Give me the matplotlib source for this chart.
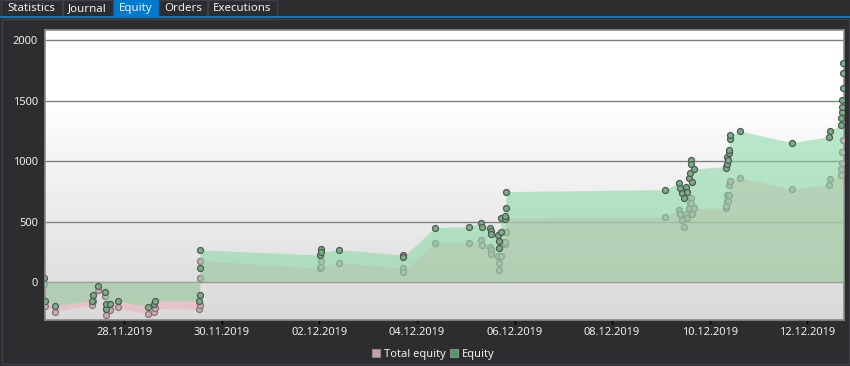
import matplotlib
matplotlib.use("Agg")
import matplotlib.pyplot as plt
import matplotlib.dates as mdates
from matplotlib.patches import Rectangle, Patch
import numpy as np
import pandas as pd

plt.rcParams['font.family'] = ['Noto Sans', 'DejaVu Sans']

# ---------------- data ----------------
times = [
    "2019-11-26 08:45", "2019-11-26 09:05", "2019-11-26 13:45",
    "2019-11-27 08:20", "2019-11-27 08:35", "2019-11-27 10:55", "2019-11-27 14:20",
    "2019-11-27 14:50", "2019-11-27 15:10", "2019-11-27 17:00", "2019-11-27 20:45",
    "2019-11-28 11:30", "2019-11-28 14:50", "2019-11-28 15:10",
    "2019-11-29 12:55", "2019-11-29 13:05", "2019-11-29 13:15", "2019-11-29 13:30",
    "2019-12-02 00:05", "2019-12-02 00:40", "2019-12-02 01:00", "2019-12-02 09:35",
    "2019-12-03 17:00", "2019-12-03 17:20", "2019-12-04 08:50", "2019-12-05 01:35",
    "2019-12-05 07:40", "2019-12-05 08:10", "2019-12-05 12:00", "2019-12-05 12:15",
    "2019-12-05 12:30", "2019-12-05 15:40", "2019-12-05 16:20", "2019-12-05 16:35",
    "2019-12-05 17:15", "2019-12-05 17:30", "2019-12-05 19:10", "2019-12-05 19:20",
    "2019-12-05 19:40", "2019-12-05 19:50",
    "2019-12-09 02:00", "2019-12-09 09:00", "2019-12-09 09:20", "2019-12-09 10:30",
    "2019-12-09 11:15", "2019-12-09 12:30", "2019-12-09 12:50", "2019-12-09 14:00",
    "2019-12-09 14:20", "2019-12-09 14:40", "2019-12-09 15:00", "2019-12-09 15:30",
    "2019-12-09 16:15",
    "2019-12-10 07:50", "2019-12-10 08:00", "2019-12-10 08:20", "2019-12-10 08:40",
    "2019-12-10 09:00", "2019-12-10 09:20", "2019-12-10 09:40", "2019-12-10 10:00",
    "2019-12-10 10:10", "2019-12-10 14:50", "2019-12-11 16:20",
    "2019-12-12 10:45", "2019-12-12 11:00",
    "2019-12-12 16:40", "2019-12-12 16:50", "2019-12-12 17:00", "2019-12-12 17:10",
    "2019-12-12 17:20", "2019-12-12 17:30", "2019-12-12 17:40", "2019-12-12 17:50",
]
equity = [
    30, -155, -195,
    -155, -107, -30, -80,
    -226, -182, -182, -155,
    -204, -185, -155,
    -155, -107, 118, 265,
    223, 273, 245, 267,
    223, 209, 450, 458,
    491, 458, 444, 422,
    395, 389, 342, 284,
    411, 532, 519, 546,
    615, 748,
    764, 822, 775, 734,
    693, 789, 748, 858,
    900, 1010, 977, 830,
    935,
    955, 941, 974, 1037,
    1010, 1065, 1093, 1181,
    1217, 1250, 1153,
    1203, 1252,
    1300, 1357, 1405, 1446,
    1507, 1608, 1733, 1815,
]
total_equity = [
    -20, -200, -245,
    -193, -155, -63, -113,
    -273, -226, -235, -210,
    -268, -246, -218,
    -226, -190, 36, 176,
    113, 176, 125, 160,
    113, 85, 325, 325,
    348, 306, 292, 265,
    232, 218, 160, 99,
    218, 334, 315, 334,
    416, 530,
    540, 596, 560, 513,
    453, 560, 527, 610,
    656, 693, 656, 560,
    610,
    610, 629, 673, 720,
    673, 720, 803, 836,
    836, 863, 767,
    805, 850,
    886, 933, 988, 1079,
    1079, 1175, 1175, 1175,
]
tab_labels = ["Statistics", "Journal", "Equity", "Orders", "Executions"]
selected_tab = "Equity"
y_ticks = [0, 500, 1000, 1500, 2000]
x_tick_dates = ["2019-11-28", "2019-11-30", "2019-12-02", "2019-12-04",
                "2019-12-06", "2019-12-08", "2019-12-10", "2019-12-12"]
x_range = ["2019-11-26 09:00", "2019-12-12 18:05"]
y_range = [-315, 2085]
legend_labels = ["Total equity", "Equity"]

# ---------------- figure ----------------
W, H = 850, 366
BG = '#2d2d30'
fig = plt.figure(figsize=(W / 100, H / 100), dpi=100, facecolor=BG)


def rect_px(x, y, w, h, **kw):
    r = Rectangle((x / W, 1 - (y + h) / H), w / W, h / H,
                  transform=fig.transFigure, **kw)
    fig.add_artist(r)
    return r


# panel border
rect_px(1.5, 19, 847, 345, facecolor='none', edgecolor='#3f3f46', lw=1)

# tabs
tab_edges = [0, 62, 113.3, 158.3, 207.3, 277.3]
for i, lab in enumerate(tab_labels):
    x0, x1 = tab_edges[i], tab_edges[i + 1]
    sel = (lab == selected_tab)
    rect_px(x0 + 0.5, 0.5, x1 - x0 - 1, 16,
            facecolor='#007acc' if sel else '#2d2d30',
            edgecolor='#007acc' if sel else '#3f3f46', lw=1)
    fig.text((x0 + x1) / 2 / W, 1 - 8.5 / H, lab, color='#f1f1f1',
             fontsize=8.3, ha='center', va='center')
rect_px(0, 16, W, 2, facecolor='#007acc', edgecolor='none')

# axes
ax = fig.add_axes([45 / W, 46 / H, 799 / W, 290 / H])
ax.set_facecolor('#e6e6e6')

# gradient background
rows = 290
v = np.ones(rows)
for r in range(rows):
    v[r] = 1.0 if r < 70 else 1.0 - (38 / 255) * (r - 70) / (rows - 70)
grad = np.dstack([v, v, v]).reshape(rows, 1, 3)
ax.imshow(grad, extent=(0, 1, 0, 1), transform=ax.transAxes, aspect='auto',
          zorder=0, interpolation='bilinear')

t = pd.to_datetime(times)
eq = np.array(equity, dtype=float)
te = np.array(total_equity, dtype=float)

ax.fill_between(t, 0, te, color='#f2aeba', alpha=0.55, lw=0, zorder=2)
ax.plot(t, te, 'o', ms=4.3, mfc='#d9a6b0', mec='#7a7a7a', mew=0.9, zorder=3)
ax.fill_between(t, 0, eq, color='#85d8a2', alpha=0.55, lw=0, zorder=4)
ax.plot(t, eq, 'o', ms=4.3, mfc='#72b284', mec='#555555', mew=0.9, zorder=5)

ax.set_xlim(pd.to_datetime(x_range[0]), pd.to_datetime(x_range[1]))
ax.set_ylim(*y_range)

ax.set_yticks(y_ticks)
ax.yaxis.grid(True, color='#7f7f7f', lw=1)
ax.set_axisbelow(True)
ax.set_xticks(pd.to_datetime(x_tick_dates))
ax.xaxis.set_major_formatter(mdates.DateFormatter('%d.%m.%Y'))

ax.tick_params(axis='y', length=0, labelcolor='#f0f0f0', labelsize=8, pad=5)
ax.tick_params(axis='x', direction='out', length=3, width=1, color='#000000',
               labelcolor='#f0f0f0', labelsize=8, pad=2)
for s in ax.spines.values():
    s.set_color('#8c8c8c')
    s.set_linewidth(1.2)

# legend
handles = [Patch(facecolor='#c9a0a8', edgecolor='#8a8a8a', lw=0.8),
           Patch(facecolor='#4f9a6a', edgecolor='#8a8a8a', lw=0.8)]
fig.legend(handles, legend_labels, loc='center', ncol=2,
           bbox_to_anchor=(433 / W, 1 - 354 / H), frameon=False,
           handlelength=0.75, handleheight=0.75, handletextpad=0.3,
           columnspacing=0.4, labelcolor='#f0f0f0', fontsize=8,
           borderpad=0, borderaxespad=0)

fig.savefig('out.png', dpi=100, facecolor=BG)
